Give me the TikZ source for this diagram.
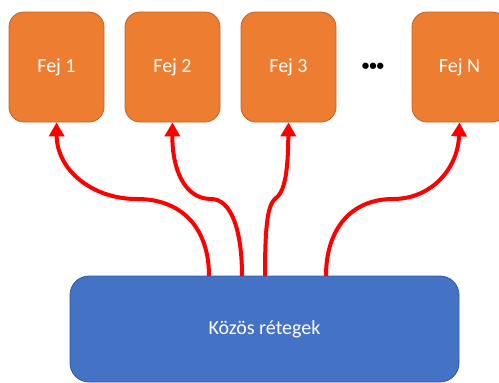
\documentclass[tikz,border=0pt]{standalone}
\usepackage{fontspec}
\setmainfont{Carlito}
\usetikzlibrary{arrows.meta}

\definecolor{headfill}{HTML}{ED7D31}
\definecolor{headedge}{HTML}{C0622A}
\definecolor{basefill}{HTML}{4472C4}
\definecolor{baseedge}{HTML}{35599A}
\definecolor{flow}{HTML}{FF0000}

\begin{document}
\begin{tikzpicture}[x=1pt,y=-1pt,
  headbox/.style={draw=headedge, fill=headfill, rounded corners=15pt, line width=0.8pt,
    minimum width=95pt, minimum height=110pt, inner sep=0pt, text=white,
    font=\fontsize{20}{24}\selectfont},
  basebox/.style={draw=baseedge, fill=basefill, rounded corners=19pt, line width=0.8pt,
    minimum width=389pt, minimum height=106pt, inner sep=0pt, text=white,
    font=\fontsize{20}{24}\selectfont},
  flowarrow/.style={draw=flow, line width=4pt, -{Triangle[length=14pt,width=15pt]}}]

  \clip (0,0) rectangle (499,383);

  % output heads
  \node[headbox] (h1) at (56.5,67) {Fej 1};
  \node[headbox] (h2) at (172.5,67) {Fej 2};
  \node[headbox] (h3) at (288.5,67) {Fej 3};
  \node[headbox] (hn) at (459.5,67) {Fej N};
  \node[font=\fontsize{15}{18}\selectfont\bfseries, inner sep=0pt] (dots) at (373,67) {•••};

  % shared trunk
  \node[basebox] (base) at (264.5,329) {Közös rétegek};

  % branch points on the trunk
  \coordinate (s1) at (209,276);
  \coordinate (s2) at (242,276);
  \coordinate (s3) at (265,276);
  \coordinate (s4) at (326,276);

  \draw[flowarrow] (s1) .. controls (209,228) and (182,199) .. (137,199)
                        .. controls (92,199) and (57,170) .. (h1.south);
  \draw[flowarrow] (s2) .. controls (242,232) and (232,199) .. (211,199)
                        .. controls (184,199) and (172,168) .. (h2.south);
  \draw[flowarrow] (s3) .. controls (265,222) and (268,204) .. (276,198)
                        .. controls (287,190) and (288,160) .. (h3.south);
  \draw[flowarrow] (s4) .. controls (326,228) and (352,199) .. (393,199)
                        .. controls (432,199) and (458,168) .. (hn.south);
\end{tikzpicture}
\end{document}
